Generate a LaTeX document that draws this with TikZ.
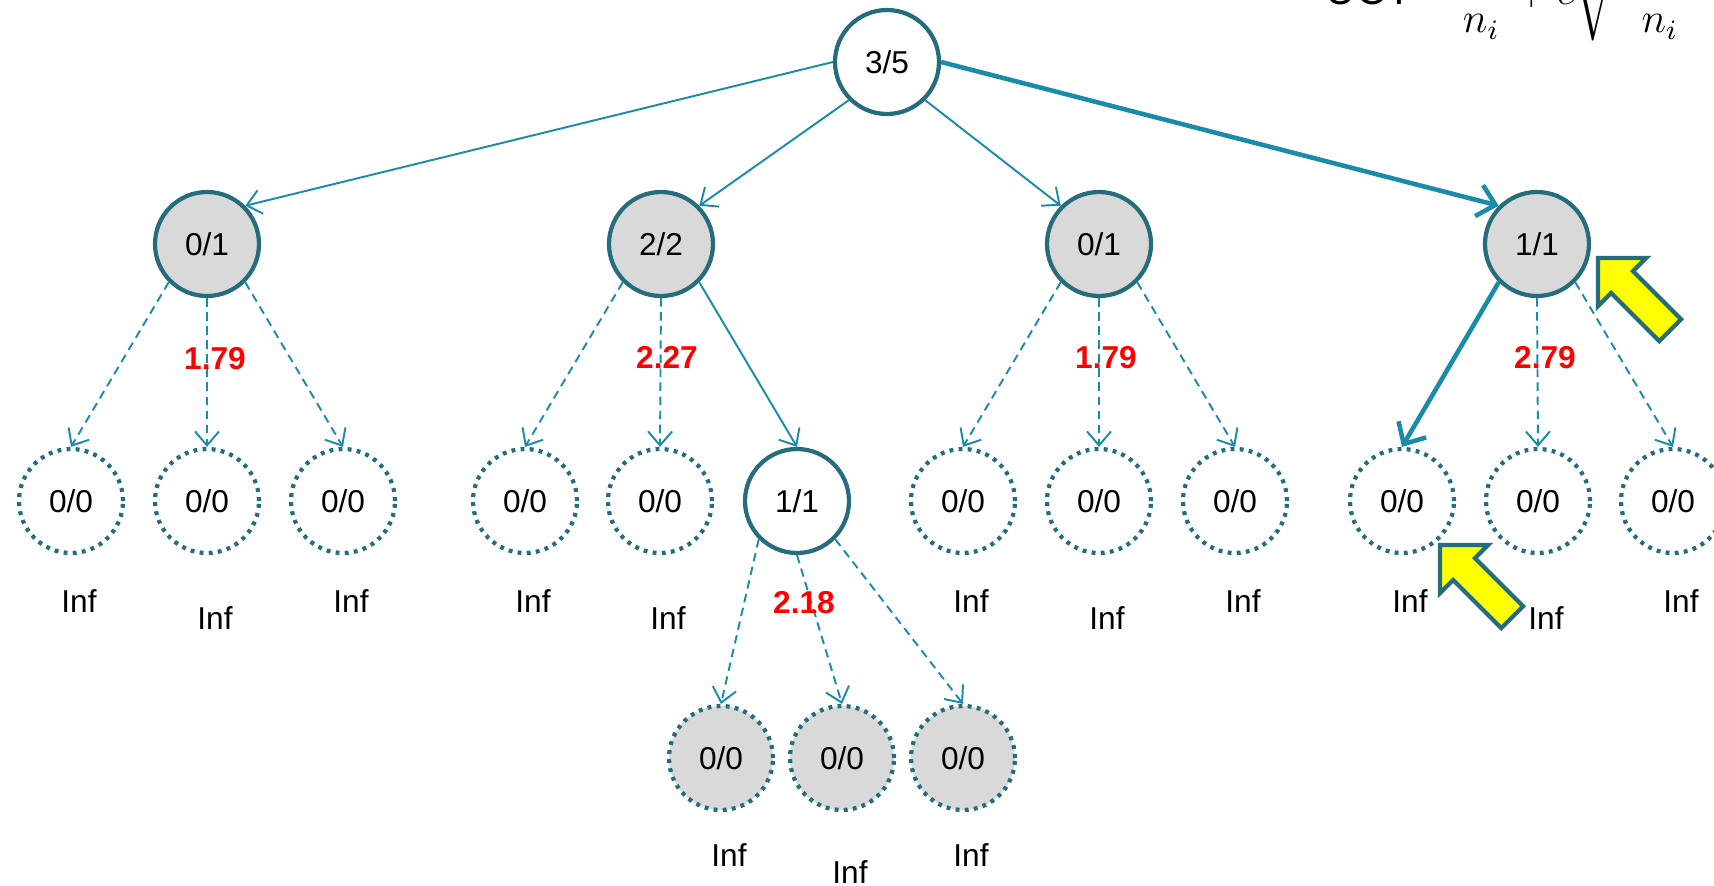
\documentclass[tikz,border=0pt]{standalone}
\usepackage{amsmath}
\usepackage{fontspec}
\setmainfont{Liberation Sans}
\usetikzlibrary{arrows.meta,calc}
\definecolor{edgeteal}{HTML}{1B8BAA}
\definecolor{ringteal}{HTML}{256C7D}
\definecolor{visitgrey}{HTML}{D9D9D9}
\definecolor{hintyellow}{HTML}{FFFF00}
\tikzset{
  tnode/.style      = {circle, draw=ringteal, line width=1.2pt, minimum size=10.4mm, inner sep=0pt},
  seen/.style       = {tnode, fill=visitgrey},
  fresh/.style      = {tnode, dash pattern=on 1.1pt off 1.5pt},
  link/.style       = {draw=edgeteal, line width=0.55pt, -{Straight Barb[length=1.4mm,width=2.4mm]}},
  trial/.style      = {link, dash pattern=on 2.4pt off 1.6pt},
  pick/.style       = {draw=edgeteal, line width=1.3pt, -{Straight Barb[length=1.7mm,width=3.2mm]}},
  every node/.style = {font=\fontsize{9}{11}\selectfont},
  cost/.style       = {inner sep=1pt},
  score/.style      = {text=red, font=\fontsize{9}{11}\selectfont\bfseries, inner sep=1pt},
  hint/.style       = {draw=ringteal, line width=1.2pt, fill=hintyellow, line join=miter},
}
% block arrow pointing up-left, #1 is its tip
\newcommand{\hintarrow}[1]{%
  \draw[hint, shift={#1}, rotate=135] (0,0) -- (-0.34,0.34) -- (-0.34,0.155) -- (-1.02,0.155)
    -- (-1.02,-0.155) -- (-0.34,-0.155) -- (-0.34,-0.34) -- cycle;}

\begin{document}
\begin{tikzpicture}
  \useasboundingbox (0,0) rectangle (17.14,-8.86);
  \clip (0,0) rectangle (17.14,-8.86);
  % formula, cut by the top edge
  \node[anchor=base west, inner sep=0pt, font=\fontsize{12}{14}\selectfont] (uct) at (13.25,-0.04)
    {UCT$=\dfrac{w_i}{n_i}+c\sqrt{\dfrac{\ln N}{n_i}}$};
  % root and first level
  \node[tnode] (root) at (8.87,-0.62) {3/5};
  \node[seen] (a1) at (2.07,-2.44) {0/1};
  \node[seen] (a2) at (6.61,-2.44) {2/2};
  \node[seen] (a3) at (10.99,-2.44) {0/1};
  \node[seen] (a4) at (15.37,-2.44) {1/1};
  % second level
  \node[fresh] (b11) at (0.71,-5.01) {0/0};
  \node[fresh] (b12) at (2.07,-5.01) {0/0};
  \node[fresh] (b13) at (3.43,-5.01) {0/0};
  \node[fresh] (b21) at (5.25,-5.01) {0/0};
  \node[fresh] (b22) at (6.60,-5.01) {0/0};
  \node[tnode] (b23) at (7.97,-5.01) {1/1};
  \node[fresh] (b31) at (9.63,-5.01) {0/0};
  \node[fresh] (b32) at (10.99,-5.01) {0/0};
  \node[fresh] (b33) at (12.35,-5.01) {0/0};
  \node[fresh] (b41) at (14.02,-5.01) {0/0};
  \node[fresh] (b42) at (15.38,-5.01) {0/0};
  \node[fresh] (b43) at (16.73,-5.01) {0/0};
  % third level
  \node[fresh, fill=visitgrey] (c1) at (7.21,-7.58) {0/0};
  \node[fresh, fill=visitgrey] (c2) at (8.42,-7.58) {0/0};
  \node[fresh, fill=visitgrey] (c3) at (9.63,-7.58) {0/0};
  % values of the unvisited nodes
  \node[cost] at ($(b11)+(0.08,-1.0)$)  {Inf};
  \node[cost] at ($(b12)+(0.08,-1.17)$) {Inf};
  \node[cost] at ($(b13)+(0.08,-1.0)$)  {Inf};
  \node[cost] at ($(b21)+(0.08,-1.0)$)  {Inf};
  \node[cost] at ($(b22)+(0.08,-1.17)$) {Inf};
  \node[cost] at ($(b31)+(0.08,-1.0)$)  {Inf};
  \node[cost] at ($(b32)+(0.08,-1.17)$) {Inf};
  \node[cost] at ($(b33)+(0.08,-1.0)$)  {Inf};
  \node[cost] at ($(b41)+(0.08,-1.0)$)  {Inf};
  \node[cost] at ($(b42)+(0.08,-1.17)$) {Inf};
  \node[cost] at ($(b43)+(0.08,-1.0)$)  {Inf};
  \node[cost] at ($(c1)+(0.08,-0.97)$)  {Inf};
  \node[cost] at ($(c2)+(0.08,-1.14)$)  {Inf};
  \node[cost] at ($(c3)+(0.08,-0.97)$)  {Inf};
  % edges
  \draw[link] (root.180) -- (a1.45);
  \draw[link] (root.225) -- (a2.45);
  \draw[link] (root.315) -- (a3.135);
  \draw[pick] (root.0) -- (a4.135);
  \draw[trial] (a1.225) -- (b11.north);
  \draw[trial] (a1.south) -- (b12.north);
  \draw[trial] (a1.315) -- (b13.north);
  \draw[trial] (a2.225) -- (b21.north);
  \draw[trial] (a2.south) -- (b22.north);
  \draw[link]  (a2.315) -- (b23.north);
  \draw[trial] (a3.225) -- (b31.north);
  \draw[trial] (a3.south) -- (b32.north);
  \draw[trial] (a3.315) -- (b33.north);
  \draw[pick]  (a4.225) -- (b41.north);
  \draw[trial] (a4.south) -- (b42.north);
  \draw[trial] (a4.315) -- (b43.north);
  \draw[trial] (b23.225) -- (c1.north);
  \draw[trial] (b23.south) -- (c2.north);
  \draw[trial] (b23.315) -- (c3.north);
  % UCT values on the middle branches
  \node[score] at ($(a1)+(0.08,-1.15)$) {1.79};
  \node[score] at ($(a2)+(0.06,-1.13)$) {2.27};
  \node[score] at ($(a3)+(0.07,-1.14)$) {1.79};
  \node[score] at ($(a4)+(0.08,-1.14)$) {2.79};
  \node[score] at ($(b23)+(0.07,-1.02)$) {2.18};
  % pointers
  \hintarrow{(15.98,-2.58)}
  \hintarrow{(14.40,-5.45)}
\end{tikzpicture}
\end{document}
